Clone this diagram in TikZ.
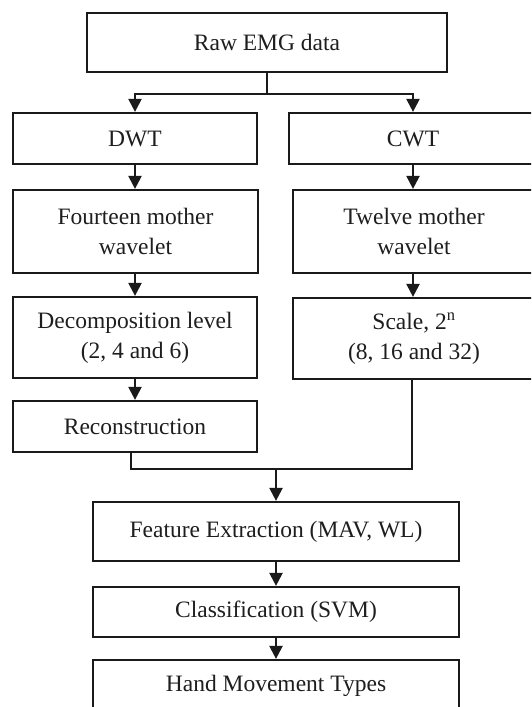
\documentclass[tikz,border=0pt]{standalone}
\usepackage{fontspec}
\setmainfont{Liberation Serif}
\usetikzlibrary{arrows.meta}
\definecolor{linec}{HTML}{1A1A1A}
\definecolor{textc}{HTML}{1E1E1E}
\begin{document}
\begin{tikzpicture}[x=1pt,y=-1pt,
  box/.style={draw=linec, line width=2.2pt, fill=white, inner sep=0pt, align=center,
    font=\fontsize{23.5}{30}\selectfont, text=textc},
  conn/.style={draw=linec, line width=2.2pt},
  arr/.style={conn, -{Triangle[length=13pt,width=13pt]}}]
\useasboundingbox (0,0) rectangle (531,707);
\clip (0,0) rectangle (531,707);
\node[box, minimum width=360pt, minimum height=59pt] (raw) at (267,42.5) {Raw EMG data};
\node[box, minimum width=244pt, minimum height=51pt] (dwt) at (135,138.5) {DWT};
\node[box, minimum width=248pt, minimum height=51pt] (cwt) at (413,138.5) {CWT};
\node[box, minimum width=245pt, minimum height=83pt] (four) at (135.5,231.5) {Fourteen mother\\wavelet};
\node[box, minimum width=242pt, minimum height=83pt] (twelve) at (414,231.5) {Twelve mother\\wavelet};
\node[box, minimum width=244pt, minimum height=81pt] (decomp) at (135,337.5) {Decomposition level\\(2, 4 and 6)};
\node[box, minimum width=242pt, minimum height=81pt] (scale) at (414,338.5) {Scale, 2\textsuperscript{n}\\(8, 16 and 32)};
\node[box, minimum width=244pt, minimum height=51pt] (recon) at (135,426.5) {Reconstruction};
\node[box, minimum width=366pt, minimum height=59pt] (feat) at (276,531.5) {Feature Extraction (MAV, WL)};
\node[box, minimum width=366pt, minimum height=50pt] (cls) at (276,612) {Classification (SVM)};
\node[box, minimum width=366pt, minimum height=52pt] (hand) at (276,686) {Hand Movement Types};

\coordinate (split) at ([yshift=-21pt]raw.south);
\draw[conn] (raw.south) -- (split);
\draw[arr] (split) -| (dwt.north);
\draw[arr] (split) -| (cwt.north);
\draw[arr] (dwt.south) -- (dwt.south |- four.north);
\draw[arr] (cwt.south) -- (cwt.south |- twelve.north);
\draw[arr] (four.south -| dwt.south) -- (dwt.south |- decomp.north);
\draw[arr] (twelve.south -| cwt.south) -- (cwt.south |- scale.north);
\draw[arr] (decomp.south) -- (recon.north);
\coordinate (m) at ([yshift=32pt]feat.north);
\draw[conn] ([xshift=-4pt]recon.south) |- ([xshift=-2pt]scale.south |- m) -- ([xshift=-2pt]scale.south);
\draw[arr] (m) -- (feat.north);
\draw[arr] (feat.south) -- (cls.north);
\draw[arr] (cls.south) -- (hand.north);
\end{tikzpicture}
\end{document}
